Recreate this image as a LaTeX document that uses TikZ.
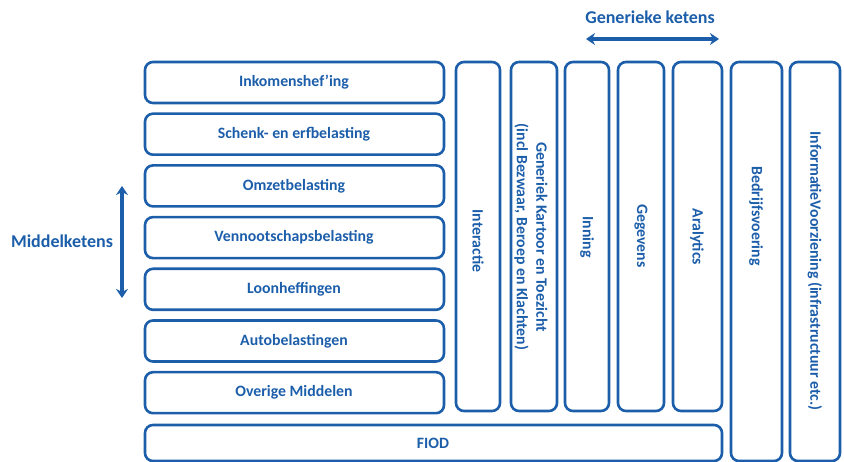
\documentclass[tikz,border=0pt]{standalone}
\usepackage{fontspec}
\setmainfont{Carlito}
\usetikzlibrary{arrows.meta}
\definecolor{bl}{RGB}{28,94,170}
\tikzset{
  box/.style={draw=bl, line width=2.6pt, rounded corners=8pt, inner sep=0pt},
  lbl/.style={text=bl, font=\fontsize{15.8}{19.5}\selectfont\bfseries, inner sep=0pt},
  vlbl/.style={lbl, rotate=-90, align=center},
  big/.style={text=bl, font=\fontsize{18}{20}\selectfont\bfseries, inner sep=0pt},
  dbl/.style={draw=bl, line width=3.6pt, {Stealth[length=9pt,width=12pt]}-{Stealth[length=9pt,width=12pt]}}
}
\begin{document}
\begin{tikzpicture}[x=1pt,y=-1pt]
\useasboundingbox (0,0) rectangle (844,462);
% left rows
\foreach \i/\t in {0/Inkomenshef’ing,1/Schenk- en erfbelasting,2/Omzetbelasting,3/Vennootschapsbelasting,4/Loonheffingen,5/Autobelastingen,6/Overige Middelen}{
  \draw[box] (145,62+51.7*\i) rectangle (444,103+51.7*\i);
  \node[lbl] (r\i) at (294,82.5+51.7*\i) {\t};
}
% FIOD
\draw[box] (145,425) rectangle (722,461);
\node[lbl] (fiod) at (433,443) {FIOD};
% vertical columns
\draw[box] (456,62) rectangle (500,411);
\node[vlbl] (inter) at (478,241) {Interactie};
\draw[box] (511,62) rectangle (557,411);
\node[vlbl] (gen) at (531,237) {Generiek Kartoor en Toezicht\\(incl Bezwaar, Beroep en Klachten)};
\draw[box] (565,62) rectangle (609,411);
\node[vlbl] (inn) at (587,237) {Inning};
\draw[box] (618,62) rectangle (664,411);
\node[vlbl] (geg) at (641,236) {Gegevens};
\draw[box] (673,62) rectangle (722,411);
\node[vlbl] (ana) at (697,237) {Aralytics};
\draw[box] (731,62) rectangle (782,461);
\node[vlbl] (bed) at (756,216) {Bedrijfsvoering};
\draw[box] (790,62) rectangle (840,461);
\node[vlbl] (inf) at (815,271) {InformatieVoorziening (infrastructuur etc.)};
% headings
\node[big] (gk) at (650,17) {Generieke ketens};
\coordinate (ga) at (586,39);
\coordinate (gb) at (719,39);
\draw[dbl] (ga) -- (gb);
\node[big] (mk) at (62,241) {Middelketens};
\coordinate (ma) at (122,186);
\coordinate (mb) at (122,298);
\draw[dbl] (ma) -- (mb);
\end{tikzpicture}
\end{document}
